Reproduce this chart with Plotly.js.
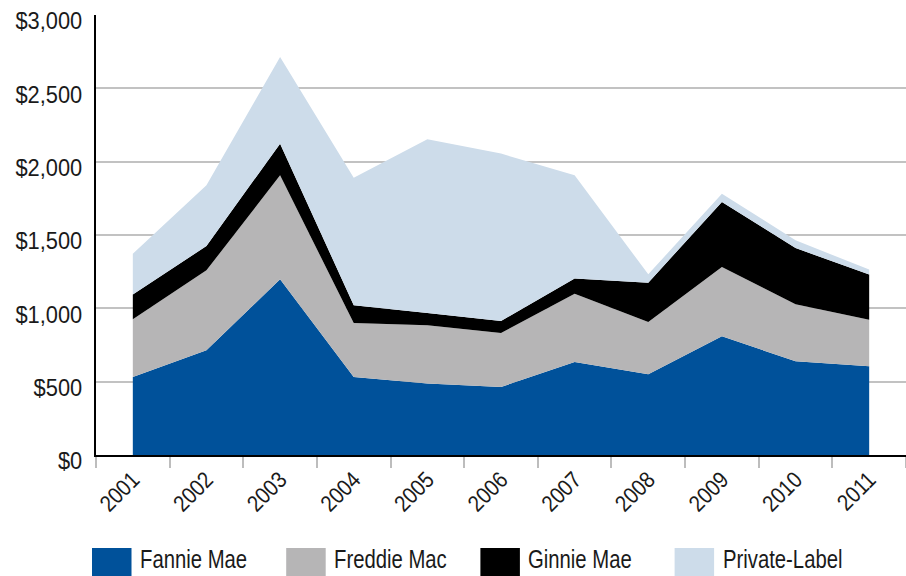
<!DOCTYPE html>
<html><head><meta charset="utf-8">
<script src="https://cdn.plot.ly/plotly-3.0.1.min.js"></script>
<style>html,body{margin:0;padding:0;background:#fff}</style>
</head><body><div id="chart" style="width:906px;height:576px"></div>
<script>
// Data (billions of dollars)
const years = ["2001","2002","2003","2004","2005","2006","2007","2008","2009","2010","2011"];
const fannieMae    = [532, 714, 1198, 532, 487, 464, 634, 550, 809, 639, 605];
const freddieMac   = [393, 545, 709, 368, 397, 368, 466, 357, 473, 388, 318];
const ginnieMae    = [169, 166, 216, 121, 84, 82, 103, 268, 443, 384, 307];
const privateLabel = [279, 414, 591, 870, 1184, 1141, 704, 57, 57, 53, 34];
const seriesNames  = ["Fannie Mae", "Freddie Mac", "Ginnie Mae", "Private-Label"];
const seriesColors = ["#00519a", "#b6b5b6", "#000000", "#cddcea"];
const yTickVals = [0, 500, 1000, 1500, 2000, 2500, 3000];
const yTickText = ["$0", "$500", "$1,000", "$1,500", "$2,000", "$2,500", "$3,000"];

const FONT = "'Liberation Sans', Arial, Helvetica, sans-serif";
const seriesValues = [fannieMae, freddieMac, ginnieMae, privateLabel];

const traces = seriesValues.map((vals, i) => ({
  type: "scatter",
  mode: "lines",
  x: years,
  y: vals,
  name: seriesNames[i],
  stackgroup: "one",
  line: {width: 0, color: seriesColors[i]},
  fillcolor: seriesColors[i],
  showlegend: false,
  hoverinfo: "x+y+name"
}));

// Manual legend (square swatches + labels)
const W = 810, H = 440, L = 96, T = 15;
const px = v => (v - L) / W;
const py = v => (T + H - v) / H;
const shapes = [], annotations = [];
seriesNames.forEach((nm, i) => {
  const off = 194.2 * i;
  shapes.push({type: "rect", xref: "paper", yref: "paper",
    x0: px(92 + off), x1: px(131.5 + off), y0: py(548), y1: py(578),
    fillcolor: seriesColors[i], line: {width: 0}});
  annotations.push({xref: "paper", yref: "paper", x: px(138 + off), y: py(559),
    xanchor: "left", yanchor: "middle", align: "left", showarrow: false, text: nm,
    font: {family: FONT, size: 26, color: "#1a1a1a"}});
});

const layout = {
  width: 906, height: 576,
  margin: {l: L, r: 0, t: T, b: 576 - T - H},
  paper_bgcolor: "#ffffff", plot_bgcolor: "#ffffff",
  showlegend: false,
  xaxis: {
    type: "category", range: [-0.5, 10.5],
    tickson: "boundaries", ticks: "outside", ticklen: 11, tickwidth: 1.5, tickcolor: "#bdbdbd",
    tickangle: -45, tickfont: {family: FONT, size: 23, color: "#1a1a1a"},
    showgrid: false, showline: true, linecolor: "#000", linewidth: 2, zeroline: false,
    fixedrange: true
  },
  yaxis: {
    range: [0, 3000], tickvals: yTickVals, ticktext: yTickText,
    tickfont: {family: FONT, size: 24, color: "#1a1a1a"},
    showgrid: true, gridcolor: "#c2c2c2", gridwidth: 1.6,
    showline: true, linecolor: "#000", linewidth: 2, zeroline: false,
    ticks: "", ticklabelstandoff: 7, ticklabelshift: 6,
    fixedrange: true
  },
  shapes: shapes, annotations: annotations
};

// condense text horizontally (the original uses a condensed typeface)
function condense(selector, factor) {
  document.querySelectorAll(selector).forEach(t => {
    const w = t.getComputedTextLength();
    t.setAttribute("textLength", (w * factor).toFixed(1));
    t.setAttribute("lengthAdjust", "spacingAndGlyphs");
  });
}

Plotly.newPlot("chart", traces, layout, {displayModeBar: false}).then(() => {
  condense("#chart .ytick text", 0.91);
  condense("#chart .xtick text", 0.88);
  condense("#chart .annotation-text", 0.78);
});
</script></body></html>
